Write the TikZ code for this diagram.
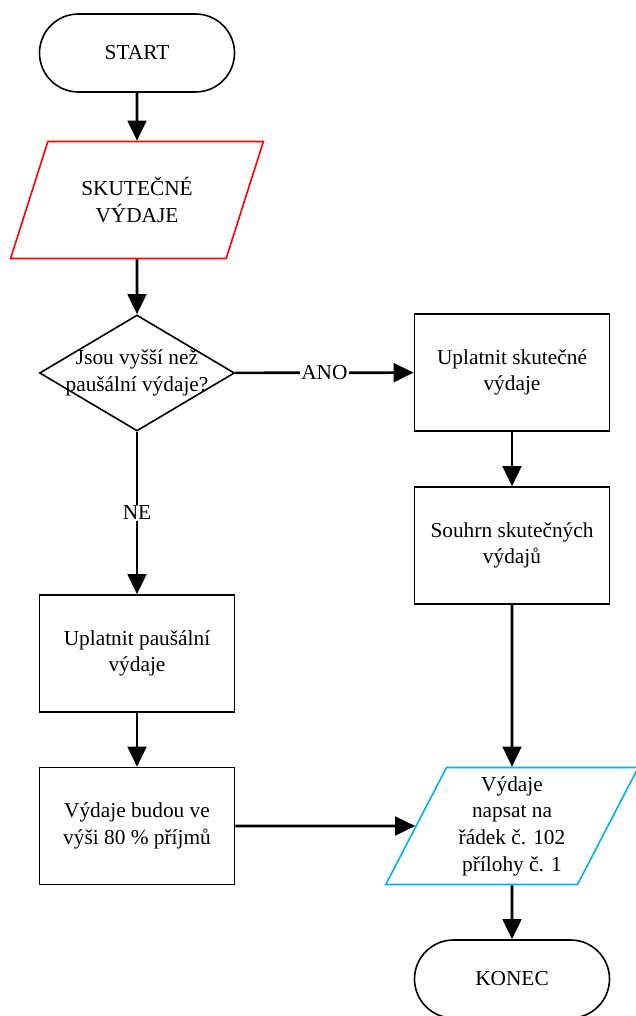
\documentclass[tikz,border=0pt]{standalone}
\usepackage{fontspec}
\setmainfont{Liberation Serif}
\usetikzlibrary{shapes.geometric,arrows.meta}
\definecolor{modra}{RGB}{0,176,240}

\begin{document}
\begin{tikzpicture}[x=0.75pt,y=-0.75pt,
	every node/.style={font=\fontsize{16}{20}\selectfont, align=center},
	krajni/.style={draw, line width=1.2pt, rectangle, rounded corners=29.25pt,
		minimum width=146.25pt, minimum height=58.5pt},
	krok/.style={draw, line width=1.2pt, rectangle,
		minimum width=146.25pt, minimum height=87.75pt},
	data/.style={draw, line width=1.2pt, trapezium, trapezium stretches=true,
		trapezium left angle=63.6, trapezium right angle=116.4,
		minimum width=189.75pt, minimum height=87.75pt, inner sep=1pt},
	otazka/.style={draw, line width=1.2pt, diamond, inner sep=0pt,
		minimum width=146.25pt, minimum height=87pt},
	sipka/.style={draw, line width=2pt, -{Triangle[length=15pt,width=14pt]}},
	stitek/.style={fill=white, inner sep=1pt}]
	\useasboundingbox (0,0) rectangle (635,1016);
		% Levý sloupec
		\node [krajni] (start) at (137,53) {START};
		\node [data, draw=red] (skut) at (137,200) {SKUTEČNÉ\\VÝDAJE};
		\node [otazka, label={[align=center]center:Jsou vyšší než\\paušální výdaje?}]
			(dotaz) at (137,373) {};
		\node [krok] (upl) at (137,653.5) {Uplatnit paušální\\výdaje};
		\node [krok] (vyse) at (137,826) {Výdaje budou ve\\výši 80 \% příjmů};
		% Pravý sloupec
		\node [krok] (usk) at (512,372.5) {Uplatnit skutečné\\výdaje};
		\node [krok] (souhrn) at (512,545.5) {Souhrn skutečných\\výdajů};
		\node [data, draw=modra] (napsat) at (512,826) {Výdaje\\napsat na\\řádek č. 102\\přílohy č. 1};
		\node [krajni] (konec) at (512,979) {KONEC};
		% Šipky
		\draw [sipka] (start) -- (skut);
		\draw [sipka] (skut) -- (dotaz);
		\draw [sipka] (dotaz) -- node [stitek] {ANO} (usk);
		\draw [sipka] (dotaz) -- node [stitek] {NE} (upl);
		\draw [sipka] (usk) -- (souhrn);
		\draw [sipka] (souhrn) -- (napsat);
		\draw [sipka] (upl) -- (vyse);
		\draw [sipka] (vyse) -- (napsat);
		\draw [sipka] (napsat) -- (konec);
\end{tikzpicture}
\end{document}
